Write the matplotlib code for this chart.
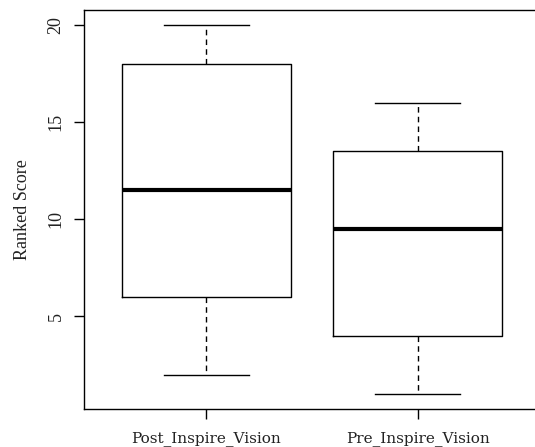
import matplotlib.pyplot as plt

# five-number summaries per group
groups = ["Post_Inspire_Vision", "Pre_Inspire_Vision"]
whislo = [2, 1]
q1 = [6, 4]
med = [11.5, 9.5]
q3 = [18, 13.5]
whishi = [20, 16]

stats = []
for i in range(len(groups)):
    stats.append({"label": groups[i], "whislo": whislo[i], "q1": q1[i],
                  "med": med[i], "q3": q3[i], "whishi": whishi[i], "fliers": []})

fig = plt.figure(figsize=(5.35, 4.47), dpi=100)
ax = fig.add_axes([84 / 535, 38 / 447, 456 / 535, 399 / 447])

ax.bxp(stats, positions=[1, 2], widths=0.8, showfliers=False,
       boxprops=dict(color="black", linewidth=1.0),
       medianprops=dict(color="black", linewidth=3.0, solid_capstyle="butt"),
       whiskerprops=dict(color="black", linewidth=1.0, linestyle=(0, (4, 3))),
       capprops=dict(color="black", linewidth=1.0),
       capwidths=0.4)

ax.set_xlim(0.42, 2.58)
ax.set_ylim(0.24, 20.76)
ax.set_yticks([5, 10, 15, 20])
ax.set_yticklabels(["5", "10", "15", "20"], rotation=90, va="center",
                   family="Liberation Serif", fontsize=13, color="#222222")
ax.set_xticks([1, 2])
ax.set_xticklabels(groups, family="DejaVu Serif", fontsize=11, color="#222222")
ax.tick_params(axis="y", length=7, width=1.0, color="black", pad=7)
ax.tick_params(axis="x", length=7, width=1.0, color="black", pad=9)
ax.set_ylabel("Ranked Score", family="Liberation Serif", fontsize=13,
              color="#222222", labelpad=12)

for s in ax.spines.values():
    s.set_linewidth(1.0)

fig.savefig("out.png", dpi=100)
